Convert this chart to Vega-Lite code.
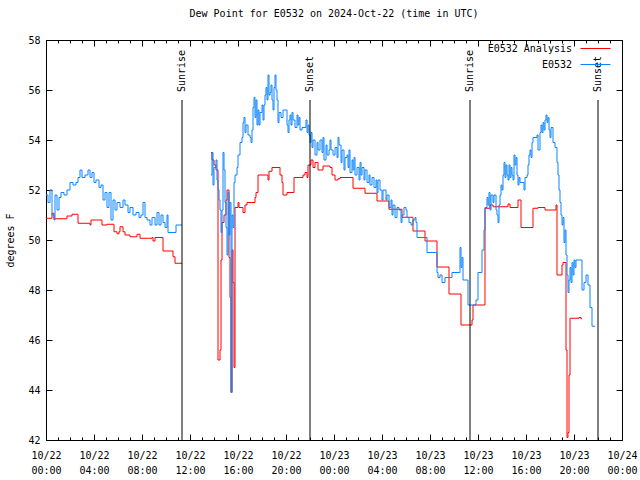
{
  "$schema": "https://vega.github.io/schema/vega-lite/v6.json",
  "width": 576,
  "height": 400,
  "autosize": {"type": "none"},
  "padding": {"left": 46, "top": 40, "right": 18, "bottom": 40},
  "title": {"text": "Dew Point for E0532 on 2024-Oct-22 (time in UTC)", "font": "DejaVu Sans Mono", "fontSize": 10, "fontWeight": "normal", "color": "black", "offset": 16, "anchor": "middle"},
  "config": {
    "view": {"stroke": "black", "strokeWidth": 1},
    "font": "DejaVu Sans Mono",
    "axis": {"labelFont": "DejaVu Sans Mono", "labelFontSize": 10, "labelColor": "black", "tickColor": "black", "tickWidth": 1, "domain": false, "grid": false, "titleFont": "DejaVu Sans Mono", "titleFontSize": 10, "titleFontWeight": "normal", "titleColor": "black"}
  },
  "datasets": {
    "obs": [
      {"t":"2024-10-22T00:00Z","v":51.8,"s":1},{"t":"2024-10-22T00:10Z","v":51.5,"s":1},{"t":"2024-10-22T00:20Z","v":52.0,"s":1},{"t":"2024-10-22T00:30Z","v":51.0,"s":1},{"t":"2024-10-22T00:40Z","v":50.8,"s":1},{"t":"2024-10-22T00:45Z","v":51.8,"s":1},{"t":"2024-10-22T00:55Z","v":51.2,"s":1},{"t":"2024-10-22T01:05Z","v":51.7,"s":1},{"t":"2024-10-22T01:15Z","v":51.9,"s":1},{"t":"2024-10-22T01:30Z","v":51.8,"s":1},{"t":"2024-10-22T01:45Z","v":52.0,"s":1},{"t":"2024-10-22T02:00Z","v":52.3,"s":1},{"t":"2024-10-22T02:15Z","v":52.2,"s":1},{"t":"2024-10-22T02:30Z","v":52.3,"s":1},{"t":"2024-10-22T02:40Z","v":52.5,"s":1},{"t":"2024-10-22T02:50Z","v":52.8,"s":1},{"t":"2024-10-22T03:00Z","v":52.5,"s":1},{"t":"2024-10-22T03:15Z","v":52.6,"s":1},{"t":"2024-10-22T03:30Z","v":52.8,"s":1},{"t":"2024-10-22T03:40Z","v":52.5,"s":1},{"t":"2024-10-22T03:50Z","v":52.7,"s":1},{"t":"2024-10-22T04:00Z","v":52.3,"s":1},{"t":"2024-10-22T04:10Z","v":52.4,"s":1},{"t":"2024-10-22T04:25Z","v":52.1,"s":1},{"t":"2024-10-22T04:35Z","v":52.2,"s":1},{"t":"2024-10-22T04:45Z","v":51.6,"s":1},{"t":"2024-10-22T04:55Z","v":51.9,"s":1},{"t":"2024-10-22T05:05Z","v":51.3,"s":1},{"t":"2024-10-22T05:15Z","v":51.9,"s":1},{"t":"2024-10-22T05:25Z","v":50.8,"s":1},{"t":"2024-10-22T05:35Z","v":51.6,"s":1},{"t":"2024-10-22T05:45Z","v":51.2,"s":1},{"t":"2024-10-22T05:55Z","v":51.5,"s":1},{"t":"2024-10-22T06:10Z","v":51.3,"s":1},{"t":"2024-10-22T06:25Z","v":51.6,"s":1},{"t":"2024-10-22T06:35Z","v":51.4,"s":1},{"t":"2024-10-22T06:50Z","v":51.1,"s":1},{"t":"2024-10-22T07:00Z","v":51.3,"s":1},{"t":"2024-10-22T07:15Z","v":51.0,"s":1},{"t":"2024-10-22T07:30Z","v":51.1,"s":1},{"t":"2024-10-22T07:45Z","v":50.9,"s":1},{"t":"2024-10-22T07:55Z","v":51.0,"s":1},{"t":"2024-10-22T08:05Z","v":51.5,"s":1},{"t":"2024-10-22T08:15Z","v":50.9,"s":1},{"t":"2024-10-22T08:25Z","v":50.8,"s":1},{"t":"2024-10-22T08:40Z","v":50.6,"s":1},{"t":"2024-10-22T08:50Z","v":50.9,"s":1},{"t":"2024-10-22T09:05Z","v":50.6,"s":1},{"t":"2024-10-22T09:15Z","v":51.1,"s":1},{"t":"2024-10-22T09:25Z","v":50.6,"s":1},{"t":"2024-10-22T09:35Z","v":51.0,"s":1},{"t":"2024-10-22T09:45Z","v":50.7,"s":1},{"t":"2024-10-22T09:55Z","v":50.5,"s":1},{"t":"2024-10-22T10:05Z","v":51.0,"s":1},{"t":"2024-10-22T10:10Z","v":50.3,"s":1},{"t":"2024-10-22T10:50Z","v":50.6,"s":1},{"t":"2024-10-22T11:20Z","v":50.6,"s":1},
      {"t":"2024-10-22T13:45Z","v":52.6,"s":2},{"t":"2024-10-22T13:50Z","v":53.5,"s":2},{"t":"2024-10-22T13:55Z","v":52.2,"s":2},{"t":"2024-10-22T14:00Z","v":52.9,"s":2},{"t":"2024-10-22T14:10Z","v":53.2,"s":2},{"t":"2024-10-22T14:15Z","v":52.4,"s":2},{"t":"2024-10-22T14:20Z","v":52.0,"s":2},{"t":"2024-10-22T14:25Z","v":51.6,"s":2},{"t":"2024-10-22T14:30Z","v":51.2,"s":2},{"t":"2024-10-22T14:35Z","v":50.3,"s":2},{"t":"2024-10-22T14:40Z","v":51.2,"s":2},{"t":"2024-10-22T14:45Z","v":53.5,"s":2},{"t":"2024-10-22T14:50Z","v":52.8,"s":2},{"t":"2024-10-22T14:55Z","v":51.5,"s":2},{"t":"2024-10-22T15:00Z","v":50.5,"s":2},{"t":"2024-10-22T15:05Z","v":49.4,"s":2},{"t":"2024-10-22T15:10Z","v":51.9,"s":2},{"t":"2024-10-22T15:15Z","v":50.2,"s":2},{"t":"2024-10-22T15:20Z","v":51.5,"s":2},{"t":"2024-10-22T15:25Z","v":43.9,"s":2},{"t":"2024-10-22T15:30Z","v":51.0,"s":2},{"t":"2024-10-22T15:35Z","v":50.5,"s":2},{"t":"2024-10-22T15:40Z","v":52.3,"s":2},{"t":"2024-10-22T15:45Z","v":52.6,"s":2},{"t":"2024-10-22T15:55Z","v":52.9,"s":2},{"t":"2024-10-22T16:00Z","v":53.4,"s":2},{"t":"2024-10-22T16:10Z","v":53.9,"s":2},{"t":"2024-10-22T16:20Z","v":54.1,"s":2},{"t":"2024-10-22T16:25Z","v":54.7,"s":2},{"t":"2024-10-22T16:30Z","v":54.9,"s":2},{"t":"2024-10-22T16:35Z","v":54.3,"s":2},{"t":"2024-10-22T16:40Z","v":54.6,"s":2},{"t":"2024-10-22T16:50Z","v":54.2,"s":2},{"t":"2024-10-22T17:00Z","v":54.1,"s":2},{"t":"2024-10-22T17:05Z","v":53.9,"s":2},{"t":"2024-10-22T17:10Z","v":54.4,"s":2},{"t":"2024-10-22T17:15Z","v":55.3,"s":2},{"t":"2024-10-22T17:20Z","v":55.7,"s":2},{"t":"2024-10-22T17:25Z","v":54.9,"s":2},{"t":"2024-10-22T17:30Z","v":55.6,"s":2},{"t":"2024-10-22T17:35Z","v":54.6,"s":2},{"t":"2024-10-22T17:40Z","v":55.2,"s":2},{"t":"2024-10-22T17:45Z","v":54.6,"s":2},{"t":"2024-10-22T17:50Z","v":55.1,"s":2},{"t":"2024-10-22T18:00Z","v":55.4,"s":2},{"t":"2024-10-22T18:05Z","v":54.8,"s":2},{"t":"2024-10-22T18:10Z","v":55.4,"s":2},{"t":"2024-10-22T18:15Z","v":55.8,"s":2},{"t":"2024-10-22T18:20Z","v":56.1,"s":2},{"t":"2024-10-22T18:25Z","v":55.6,"s":2},{"t":"2024-10-22T18:30Z","v":56.6,"s":2},{"t":"2024-10-22T18:35Z","v":55.8,"s":2},{"t":"2024-10-22T18:40Z","v":55.9,"s":2},{"t":"2024-10-22T18:45Z","v":56.2,"s":2},{"t":"2024-10-22T18:50Z","v":55.6,"s":2},{"t":"2024-10-22T18:55Z","v":55.2,"s":2},{"t":"2024-10-22T19:00Z","v":56.1,"s":2},{"t":"2024-10-22T19:05Z","v":56.6,"s":2},{"t":"2024-10-22T19:10Z","v":56.0,"s":2},{"t":"2024-10-22T19:15Z","v":55.6,"s":2},{"t":"2024-10-22T19:20Z","v":54.7,"s":2},{"t":"2024-10-22T19:25Z","v":55.1,"s":2},{"t":"2024-10-22T19:35Z","v":54.9,"s":2},{"t":"2024-10-22T19:45Z","v":55.2,"s":2},{"t":"2024-10-22T19:55Z","v":55.2,"s":2},{"t":"2024-10-22T20:05Z","v":54.6,"s":2},{"t":"2024-10-22T20:10Z","v":54.3,"s":2},{"t":"2024-10-22T20:15Z","v":54.8,"s":2},{"t":"2024-10-22T20:20Z","v":55.0,"s":2},{"t":"2024-10-22T20:25Z","v":54.6,"s":2},{"t":"2024-10-22T20:30Z","v":55.1,"s":2},{"t":"2024-10-22T20:35Z","v":54.8,"s":2},{"t":"2024-10-22T20:45Z","v":54.5,"s":2},{"t":"2024-10-22T20:55Z","v":55.0,"s":2},{"t":"2024-10-22T21:00Z","v":54.6,"s":2},{"t":"2024-10-22T21:05Z","v":54.9,"s":2},{"t":"2024-10-22T21:10Z","v":54.4,"s":2},{"t":"2024-10-22T21:20Z","v":54.5,"s":2},{"t":"2024-10-22T21:30Z","v":54.5,"s":2},{"t":"2024-10-22T21:40Z","v":54.8,"s":2},{"t":"2024-10-22T21:45Z","v":54.3,"s":2},{"t":"2024-10-22T21:50Z","v":54.6,"s":2},{"t":"2024-10-22T21:55Z","v":54.2,"s":2},
      {"t":"2024-10-22T22:00Z","v":53.9,"s":2},{"t":"2024-10-22T22:05Z","v":54.3,"s":2},{"t":"2024-10-22T22:10Z","v":53.7,"s":2},{"t":"2024-10-22T22:15Z","v":54.0,"s":2},{"t":"2024-10-22T22:25Z","v":53.4,"s":2},{"t":"2024-10-22T22:35Z","v":53.9,"s":2},{"t":"2024-10-22T22:40Z","v":53.6,"s":2},{"t":"2024-10-22T22:50Z","v":54.0,"s":2},{"t":"2024-10-22T23:00Z","v":53.5,"s":2},{"t":"2024-10-22T23:05Z","v":54.1,"s":2},{"t":"2024-10-22T23:10Z","v":53.2,"s":2},{"t":"2024-10-22T23:20Z","v":53.8,"s":2},{"t":"2024-10-22T23:25Z","v":53.4,"s":2},{"t":"2024-10-22T23:35Z","v":53.6,"s":2},{"t":"2024-10-22T23:40Z","v":54.0,"s":2},{"t":"2024-10-22T23:45Z","v":53.6,"s":2},{"t":"2024-10-22T23:55Z","v":53.4,"s":2},{"t":"2024-10-23T00:05Z","v":53.7,"s":2},{"t":"2024-10-23T00:15Z","v":53.3,"s":2},{"t":"2024-10-23T00:20Z","v":54.1,"s":2},{"t":"2024-10-23T00:25Z","v":53.8,"s":2},{"t":"2024-10-23T00:35Z","v":53.1,"s":2},{"t":"2024-10-23T00:40Z","v":53.6,"s":2},{"t":"2024-10-23T00:50Z","v":52.8,"s":2},{"t":"2024-10-23T00:55Z","v":53.3,"s":2},{"t":"2024-10-23T01:05Z","v":53.4,"s":2},{"t":"2024-10-23T01:10Z","v":52.9,"s":2},{"t":"2024-10-23T01:15Z","v":53.6,"s":2},{"t":"2024-10-23T01:20Z","v":52.7,"s":2},{"t":"2024-10-23T01:30Z","v":53.2,"s":2},{"t":"2024-10-23T01:35Z","v":52.8,"s":2},{"t":"2024-10-23T01:40Z","v":53.3,"s":2},{"t":"2024-10-23T01:45Z","v":52.6,"s":2},{"t":"2024-10-23T01:55Z","v":52.9,"s":2},{"t":"2024-10-23T02:05Z","v":52.4,"s":2},{"t":"2024-10-23T02:10Z","v":53.1,"s":2},{"t":"2024-10-23T02:15Z","v":52.6,"s":2},{"t":"2024-10-23T02:20Z","v":52.9,"s":2},{"t":"2024-10-23T02:30Z","v":52.4,"s":2},{"t":"2024-10-23T02:35Z","v":52.8,"s":2},{"t":"2024-10-23T02:45Z","v":52.3,"s":2},{"t":"2024-10-23T02:55Z","v":52.6,"s":2},{"t":"2024-10-23T03:00Z","v":52.2,"s":2},{"t":"2024-10-23T03:10Z","v":52.5,"s":2},{"t":"2024-10-23T03:20Z","v":52.1,"s":2},{"t":"2024-10-23T03:30Z","v":52.4,"s":2},{"t":"2024-10-23T03:35Z","v":51.9,"s":2},{"t":"2024-10-23T03:40Z","v":52.4,"s":2},{"t":"2024-10-23T03:50Z","v":52.0,"s":2},{"t":"2024-10-23T04:00Z","v":51.6,"s":2},{"t":"2024-10-23T04:05Z","v":52.0,"s":2},{"t":"2024-10-23T04:15Z","v":52.0,"s":2},{"t":"2024-10-23T04:20Z","v":51.6,"s":2},{"t":"2024-10-23T04:25Z","v":51.8,"s":2},{"t":"2024-10-23T04:35Z","v":51.3,"s":2},{"t":"2024-10-23T04:45Z","v":51.6,"s":2},{"t":"2024-10-23T04:50Z","v":51.0,"s":2},{"t":"2024-10-23T04:55Z","v":51.4,"s":2},{"t":"2024-10-23T05:05Z","v":50.9,"s":2},{"t":"2024-10-23T05:15Z","v":51.3,"s":2},{"t":"2024-10-23T05:25Z","v":51.2,"s":2},{"t":"2024-10-23T05:35Z","v":50.7,"s":2},{"t":"2024-10-23T05:40Z","v":51.0,"s":2},{"t":"2024-10-23T05:50Z","v":51.3,"s":2},{"t":"2024-10-23T06:00Z","v":51.2,"s":2},{"t":"2024-10-23T06:05Z","v":50.9,"s":2},{"t":"2024-10-23T06:15Z","v":50.7,"s":2},{"t":"2024-10-23T06:25Z","v":50.6,"s":2},{"t":"2024-10-23T06:35Z","v":50.8,"s":2},{"t":"2024-10-23T06:45Z","v":50.9,"s":2},{"t":"2024-10-23T06:50Z","v":50.7,"s":2},{"t":"2024-10-23T06:55Z","v":50.1,"s":2},{"t":"2024-10-23T07:45Z","v":49.5,"s":2},{"t":"2024-10-23T08:35Z","v":48.7,"s":2},{"t":"2024-10-23T08:40Z","v":48.5,"s":2},{"t":"2024-10-23T08:50Z","v":48.6,"s":2},{"t":"2024-10-23T09:00Z","v":48.3,"s":2},{"t":"2024-10-23T09:15Z","v":48.5,"s":2},{"t":"2024-10-23T09:30Z","v":48.5,"s":2},{"t":"2024-10-23T09:50Z","v":48.7,"s":2},{"t":"2024-10-23T10:30Z","v":49.7,"s":2},{"t":"2024-10-23T10:35Z","v":48.9,"s":2},{"t":"2024-10-23T10:40Z","v":49.3,"s":2},{"t":"2024-10-23T10:45Z","v":48.4,"s":2},{"t":"2024-10-23T11:10Z","v":47.4,"s":2},{"t":"2024-10-23T11:50Z","v":47.6,"s":2},{"t":"2024-10-23T12:00Z","v":48.7,"s":2},{"t":"2024-10-23T12:20Z","v":49.6,"s":2},{"t":"2024-10-23T12:30Z","v":50.4,"s":2},{"t":"2024-10-23T12:35Z","v":51.3,"s":2},{"t":"2024-10-23T12:45Z","v":51.7,"s":2},{"t":"2024-10-23T12:50Z","v":51.4,"s":2},{"t":"2024-10-23T12:55Z","v":51.9,"s":2},{"t":"2024-10-23T13:00Z","v":51.2,"s":2},{"t":"2024-10-23T13:05Z","v":51.8,"s":2},{"t":"2024-10-23T13:15Z","v":51.5,"s":2},{"t":"2024-10-23T13:20Z","v":51.8,"s":2},{"t":"2024-10-23T13:30Z","v":51.2,"s":2},{"t":"2024-10-23T13:35Z","v":51.0,"s":2},{"t":"2024-10-23T13:40Z","v":50.7,"s":2},{"t":"2024-10-23T13:45Z","v":51.4,"s":2},{"t":"2024-10-23T13:50Z","v":51.8,"s":2},{"t":"2024-10-23T13:55Z","v":52.2,"s":2},{"t":"2024-10-23T14:00Z","v":52.0,"s":2},{"t":"2024-10-23T14:05Z","v":52.6,"s":2},{"t":"2024-10-23T14:10Z","v":53.1,"s":2},{"t":"2024-10-23T14:15Z","v":52.5,"s":2},{"t":"2024-10-23T14:20Z","v":53.0,"s":2},{"t":"2024-10-23T14:25Z","v":52.6,"s":2},{"t":"2024-10-23T14:30Z","v":52.4,"s":2},{"t":"2024-10-23T14:35Z","v":53.0,"s":2},{"t":"2024-10-23T14:40Z","v":52.5,"s":2},{"t":"2024-10-23T14:45Z","v":52.9,"s":2},{"t":"2024-10-23T14:50Z","v":52.6,"s":2},{"t":"2024-10-23T14:55Z","v":52.4,"s":2},{"t":"2024-10-23T15:00Z","v":53.4,"s":2},{"t":"2024-10-23T15:05Z","v":53.0,"s":2},{"t":"2024-10-23T15:10Z","v":53.3,"s":2},{"t":"2024-10-23T15:15Z","v":52.6,"s":2},{"t":"2024-10-23T15:20Z","v":52.2,"s":2},{"t":"2024-10-23T15:25Z","v":52.5,"s":2},{"t":"2024-10-23T15:30Z","v":52.3,"s":2},{"t":"2024-10-23T15:40Z","v":52.3,"s":2},{"t":"2024-10-23T15:50Z","v":52.0,"s":2},{"t":"2024-10-23T15:55Z","v":52.5,"s":2},{"t":"2024-10-23T16:05Z","v":52.6,"s":2},{"t":"2024-10-23T16:10Z","v":53.0,"s":2},{"t":"2024-10-23T16:15Z","v":53.4,"s":2},{"t":"2024-10-23T16:20Z","v":53.6,"s":2},{"t":"2024-10-23T16:25Z","v":53.3,"s":2},{"t":"2024-10-23T16:30Z","v":53.9,"s":2},{"t":"2024-10-23T16:35Z","v":54.1,"s":2},{"t":"2024-10-23T16:55Z","v":54.2,"s":2},{"t":"2024-10-23T17:00Z","v":53.6,"s":2},{"t":"2024-10-23T17:10Z","v":54.3,"s":2},{"t":"2024-10-23T17:15Z","v":54.6,"s":2},{"t":"2024-10-23T17:20Z","v":54.3,"s":2},{"t":"2024-10-23T17:25Z","v":54.7,"s":2},{"t":"2024-10-23T17:30Z","v":54.4,"s":2},{"t":"2024-10-23T17:35Z","v":54.8,"s":2},{"t":"2024-10-23T17:40Z","v":55.0,"s":2},{"t":"2024-10-23T17:45Z","v":54.7,"s":2},{"t":"2024-10-23T17:50Z","v":54.9,"s":2},{"t":"2024-10-23T17:55Z","v":54.4,"s":2},{"t":"2024-10-23T18:00Z","v":54.1,"s":2},{"t":"2024-10-23T18:05Z","v":54.5,"s":2},{"t":"2024-10-23T18:15Z","v":53.9,"s":2},{"t":"2024-10-23T18:25Z","v":53.7,"s":2},{"t":"2024-10-23T18:35Z","v":53.1,"s":2},{"t":"2024-10-23T18:40Z","v":52.6,"s":2},{"t":"2024-10-23T18:45Z","v":52.0,"s":2},{"t":"2024-10-23T18:50Z","v":51.5,"s":2},{"t":"2024-10-23T18:55Z","v":51.0,"s":2},{"t":"2024-10-23T19:00Z","v":50.6,"s":2},{"t":"2024-10-23T19:05Z","v":50.9,"s":2},{"t":"2024-10-23T19:10Z","v":49.9,"s":2},{"t":"2024-10-23T19:15Z","v":50.4,"s":2},{"t":"2024-10-23T19:20Z","v":49.4,"s":2},{"t":"2024-10-23T19:25Z","v":48.6,"s":2},{"t":"2024-10-23T19:30Z","v":47.9,"s":2},{"t":"2024-10-23T19:35Z","v":48.4,"s":2},{"t":"2024-10-23T19:40Z","v":48.9,"s":2},{"t":"2024-10-23T19:45Z","v":48.3,"s":2},{"t":"2024-10-23T19:50Z","v":49.1,"s":2},{"t":"2024-10-23T19:55Z","v":48.6,"s":2},{"t":"2024-10-23T20:00Z","v":49.2,"s":2},{"t":"2024-10-23T20:05Z","v":48.9,"s":2},{"t":"2024-10-23T20:10Z","v":49.2,"s":2},{"t":"2024-10-23T20:40Z","v":48.0,"s":2},{"t":"2024-10-23T20:50Z","v":48.3,"s":2},{"t":"2024-10-23T21:00Z","v":48.6,"s":2},{"t":"2024-10-23T21:10Z","v":48.2,"s":2},{"t":"2024-10-23T21:20Z","v":47.3,"s":2},{"t":"2024-10-23T21:30Z","v":46.55,"s":2},{"t":"2024-10-23T21:45Z","v":46.55,"s":2}
    ],
    "ana": [
      {"t":"2024-10-22T00:00Z","v":50.87,"s":1},{"t":"2024-10-22T00:30Z","v":51.07,"s":1},{"t":"2024-10-22T00:40Z","v":50.85,"s":1},{"t":"2024-10-22T01:45Z","v":50.96,"s":1},{"t":"2024-10-22T02:10Z","v":51.03,"s":1},{"t":"2024-10-22T02:40Z","v":50.67,"s":1},{"t":"2024-10-22T03:40Z","v":50.6,"s":1},{"t":"2024-10-22T03:45Z","v":50.8,"s":1},{"t":"2024-10-22T04:40Z","v":50.6,"s":1},{"t":"2024-10-22T05:05Z","v":50.63,"s":1},{"t":"2024-10-22T05:40Z","v":50.33,"s":1},{"t":"2024-10-22T05:55Z","v":50.25,"s":1},{"t":"2024-10-22T06:05Z","v":50.33,"s":1},{"t":"2024-10-22T06:10Z","v":50.53,"s":1},{"t":"2024-10-22T06:25Z","v":50.33,"s":1},{"t":"2024-10-22T06:35Z","v":50.2,"s":1},{"t":"2024-10-22T07:00Z","v":50.13,"s":1},{"t":"2024-10-22T07:35Z","v":50.23,"s":1},{"t":"2024-10-22T07:50Z","v":50.07,"s":1},{"t":"2024-10-22T08:50Z","v":50.1,"s":1},{"t":"2024-10-22T08:55Z","v":49.96,"s":1},{"t":"2024-10-22T09:05Z","v":50.1,"s":1},{"t":"2024-10-22T09:45Z","v":49.56,"s":1},{"t":"2024-10-22T10:35Z","v":49.33,"s":1},{"t":"2024-10-22T10:45Z","v":49.07,"s":1},{"t":"2024-10-22T11:20Z","v":49.07,"s":1},
      {"t":"2024-10-22T13:45Z","v":53.5,"s":2},{"t":"2024-10-22T13:50Z","v":53.2,"s":2},{"t":"2024-10-22T14:00Z","v":53.0,"s":2},{"t":"2024-10-22T14:10Z","v":52.8,"s":2},{"t":"2024-10-22T14:20Z","v":45.2,"s":2},{"t":"2024-10-22T14:30Z","v":45.6,"s":2},{"t":"2024-10-22T14:35Z","v":49.2,"s":2},{"t":"2024-10-22T14:40Z","v":50.7,"s":2},{"t":"2024-10-22T14:50Z","v":51.0,"s":2},{"t":"2024-10-22T15:00Z","v":51.6,"s":2},{"t":"2024-10-22T15:05Z","v":52.0,"s":2},{"t":"2024-10-22T15:15Z","v":49.3,"s":2},{"t":"2024-10-22T15:20Z","v":47.7,"s":2},{"t":"2024-10-22T15:25Z","v":43.9,"s":2},{"t":"2024-10-22T15:30Z","v":49.6,"s":2},{"t":"2024-10-22T15:35Z","v":48.3,"s":2},{"t":"2024-10-22T15:40Z","v":44.9,"s":2},{"t":"2024-10-22T15:45Z","v":51.3,"s":2},{"t":"2024-10-22T16:00Z","v":51.5,"s":2},{"t":"2024-10-22T16:05Z","v":51.3,"s":2},{"t":"2024-10-22T16:25Z","v":51.1,"s":2},{"t":"2024-10-22T16:35Z","v":51.4,"s":2},{"t":"2024-10-22T16:45Z","v":51.5,"s":2},{"t":"2024-10-22T17:25Z","v":51.7,"s":2},{"t":"2024-10-22T17:30Z","v":51.9,"s":2},{"t":"2024-10-22T17:40Z","v":52.6,"s":2},{"t":"2024-10-22T18:30Z","v":52.4,"s":2},{"t":"2024-10-22T18:35Z","v":52.75,"s":2},{"t":"2024-10-22T18:50Z","v":52.9,"s":2},{"t":"2024-10-22T19:30Z","v":52.6,"s":2},{"t":"2024-10-22T19:40Z","v":52.3,"s":2},{"t":"2024-10-22T19:45Z","v":51.8,"s":2},{"t":"2024-10-22T20:05Z","v":51.9,"s":2},{"t":"2024-10-22T20:40Z","v":52.5,"s":2},{"t":"2024-10-22T21:25Z","v":52.6,"s":2},{"t":"2024-10-22T21:35Z","v":52.7,"s":2},{"t":"2024-10-22T21:45Z","v":52.5,"s":2},{"t":"2024-10-22T21:50Z","v":53.0,"s":2},{"t":"2024-10-22T22:05Z","v":53.2,"s":2},{"t":"2024-10-22T22:15Z","v":52.9,"s":2},{"t":"2024-10-22T22:25Z","v":53.1,"s":2},{"t":"2024-10-22T22:40Z","v":52.8,"s":2},{"t":"2024-10-22T23:05Z","v":52.96,"s":2},{"t":"2024-10-22T23:40Z","v":52.9,"s":2},{"t":"2024-10-22T23:50Z","v":52.6,"s":2},{"t":"2024-10-23T00:05Z","v":52.4,"s":2},{"t":"2024-10-23T00:20Z","v":52.45,"s":2},{"t":"2024-10-23T00:30Z","v":52.5,"s":2},{"t":"2024-10-23T01:35Z","v":52.07,"s":2},{"t":"2024-10-23T02:35Z","v":51.87,"s":2},{"t":"2024-10-23T03:35Z","v":51.56,"s":2},{"t":"2024-10-23T04:35Z","v":51.23,"s":2},{"t":"2024-10-23T05:40Z","v":50.91,"s":2},{"t":"2024-10-23T06:35Z","v":50.36,"s":2},{"t":"2024-10-23T07:35Z","v":49.96,"s":2},{"t":"2024-10-23T08:35Z","v":48.92,"s":2},{"t":"2024-10-23T09:35Z","v":47.84,"s":2},{"t":"2024-10-23T10:35Z","v":46.6,"s":2},{"t":"2024-10-23T11:30Z","v":46.8,"s":2},{"t":"2024-10-23T11:35Z","v":47.4,"s":2},{"t":"2024-10-23T12:35Z","v":51.27,"s":2},{"t":"2024-10-23T13:00Z","v":51.4,"s":2},{"t":"2024-10-23T13:15Z","v":51.33,"s":2},{"t":"2024-10-23T14:30Z","v":51.44,"s":2},{"t":"2024-10-23T14:40Z","v":51.3,"s":2},{"t":"2024-10-23T15:20Z","v":51.6,"s":2},{"t":"2024-10-23T15:35Z","v":50.5,"s":2},{"t":"2024-10-23T16:35Z","v":51.27,"s":2},{"t":"2024-10-23T17:00Z","v":51.3,"s":2},{"t":"2024-10-23T17:35Z","v":51.2,"s":2},{"t":"2024-10-23T18:30Z","v":51.4,"s":2},{"t":"2024-10-23T18:35Z","v":48.6,"s":2},{"t":"2024-10-23T19:00Z","v":49.0,"s":2},{"t":"2024-10-23T19:05Z","v":49.1,"s":2},{"t":"2024-10-23T19:20Z","v":45.6,"s":2},{"t":"2024-10-23T19:25Z","v":42.1,"s":2},{"t":"2024-10-23T19:30Z","v":42.3,"s":2},{"t":"2024-10-23T19:35Z","v":44.6,"s":2},{"t":"2024-10-23T19:40Z","v":46.87,"s":2},{"t":"2024-10-23T20:25Z","v":46.9,"s":2},{"t":"2024-10-23T20:35Z","v":46.85,"s":2},{"t":"2024-10-23T20:40Z","v":46.85,"s":2}
    ],
    "sun": [
      {"t":"2024-10-22T11:20Z","label":"Sunrise"},
      {"t":"2024-10-22T22:00Z","label":"Sunset"},
      {"t":"2024-10-23T11:20Z","label":"Sunrise"},
      {"t":"2024-10-23T22:00Z","label":"Sunset"}
    ]
  },
  "resolve": {"axis": {"x": "independent", "y": "independent"}},
  "layer": [
    {
      "data": {"name": "ana", "format": {"parse": {"t": "utc:'%Y-%m-%dT%H:%MZ'"}}},
      "mark": {"type": "line", "interpolate": "step-after", "strokeWidth": 1},
      "encoding": {
        "x": {"field": "t", "type": "temporal",
          "scale": {"type": "utc", "domain": [1729555200000, 1729728000000], "nice": false},
          "axis": {"orient": "bottom", "title": null, "values": [1729555200000, 1729569600000, 1729584000000, 1729598400000, 1729612800000, 1729627200000, 1729641600000, 1729656000000, 1729670400000, 1729684800000, 1729699200000, 1729713600000, 1729728000000], "tickSize": -6, "labelPadding": 16, "labelLineHeight": 15, "labelOverlap": false, "labelFlush": false, "labelBound": false, "labelBaseline": "top",
            "labelExpr": "[utcFormat(datum.value, '%m/%d'), utcFormat(datum.value, '%H:%M')]"}},
        "y": {"field": "v", "type": "quantitative",
          "scale": {"domain": [42, 58], "nice": false, "zero": false},
          "axis": {"orient": "left", "title": "degrees F", "values": [42, 44, 46, 48, 50, 52, 54, 56, 58], "tickSize": -6, "labelPadding": 12, "titlePadding": 12}},
        "detail": {"field": "s", "type": "nominal"},
        "color": {"datum": "E0532 Analysis", "type": "nominal",
          "scale": {"domain": ["E0532 Analysis", "E0532"], "range": ["#ff0000", "#0a84ff"]},
          "legend": {"title": null, "orient": "none", "legendX": 544, "legendY": 3, "symbolType": "M-3,0L3,0", "symbolSize": 100, "symbolStrokeWidth": 1, "labelAlign": "right", "labelOffset": -29, "labelFont": "DejaVu Sans Mono", "labelFontSize": 10, "labelColor": "black", "padding": 0, "rowPadding": 5}}
      }
    },
    {
      "data": {"name": "obs", "format": {"parse": {"t": "utc:'%Y-%m-%dT%H:%MZ'"}}},
      "mark": {"type": "line", "interpolate": "step-after", "strokeWidth": 1},
      "encoding": {
        "x": {"field": "t", "type": "temporal",
          "axis": {"orient": "top", "title": null, "values": [1729555200000, 1729569600000, 1729584000000, 1729598400000, 1729612800000, 1729627200000, 1729641600000, 1729656000000, 1729670400000, 1729684800000, 1729699200000, 1729713600000, 1729728000000], "tickSize": -6, "labels": false}},
        "y": {"field": "v", "type": "quantitative",
          "axis": {"orient": "right", "title": null, "values": [42, 44, 46, 48, 50, 52, 54, 56, 58], "tickSize": -6, "labels": false}},
        "detail": {"field": "s", "type": "nominal"},
        "color": {"datum": "E0532", "type": "nominal"}
      }
    },
    {
      "data": {"name": "sun", "format": {"parse": {"t": "utc:'%Y-%m-%dT%H:%MZ'"}}},
      "resolve": {"axis": {"x": "independent", "y": "independent"}},
      "layer": [
        {
          "mark": {"type": "rule", "color": "black", "strokeWidth": 1},
          "encoding": {
            "x": {"field": "t", "type": "temporal",
              "axis": {"orient": "bottom", "title": null, "values": [1729555200000,1729558800000,1729562400000,1729566000000,1729569600000,1729573200000,1729576800000,1729580400000,1729584000000,1729587600000,1729591200000,1729594800000,1729598400000,1729602000000,1729605600000,1729609200000,1729612800000,1729616400000,1729620000000,1729623600000,1729627200000,1729630800000,1729634400000,1729638000000,1729641600000,1729645200000,1729648800000,1729652400000,1729656000000,1729659600000,1729663200000,1729666800000,1729670400000,1729674000000,1729677600000,1729681200000,1729684800000,1729688400000,1729692000000,1729695600000,1729699200000,1729702800000,1729706400000,1729710000000,1729713600000,1729717200000,1729720800000,1729724400000,1729728000000], "tickSize": -3, "labels": false}},
            "y": {"datum": 55.6, "type": "quantitative", "axis": null},
            "y2": {"datum": 42}
          }
        },
        {
          "mark": {"type": "text", "angle": 270, "align": "left", "baseline": "middle", "font": "DejaVu Sans Mono", "fontSize": 10, "color": "black"},
          "encoding": {
            "x": {"field": "t", "type": "temporal",
              "axis": {"orient": "top", "title": null, "values": [1729555200000,1729558800000,1729562400000,1729566000000,1729569600000,1729573200000,1729576800000,1729580400000,1729584000000,1729587600000,1729591200000,1729594800000,1729598400000,1729602000000,1729605600000,1729609200000,1729612800000,1729616400000,1729620000000,1729623600000,1729627200000,1729630800000,1729634400000,1729638000000,1729641600000,1729645200000,1729648800000,1729652400000,1729656000000,1729659600000,1729663200000,1729666800000,1729670400000,1729674000000,1729677600000,1729681200000,1729684800000,1729688400000,1729692000000,1729695600000,1729699200000,1729702800000,1729706400000,1729710000000,1729713600000,1729717200000,1729720800000,1729724400000,1729728000000], "tickSize": -3, "labels": false}},
            "y": {"datum": 55.92, "type": "quantitative", "axis": null},
            "text": {"field": "label"}
          }
        }
      ]
    }
  ]
}
